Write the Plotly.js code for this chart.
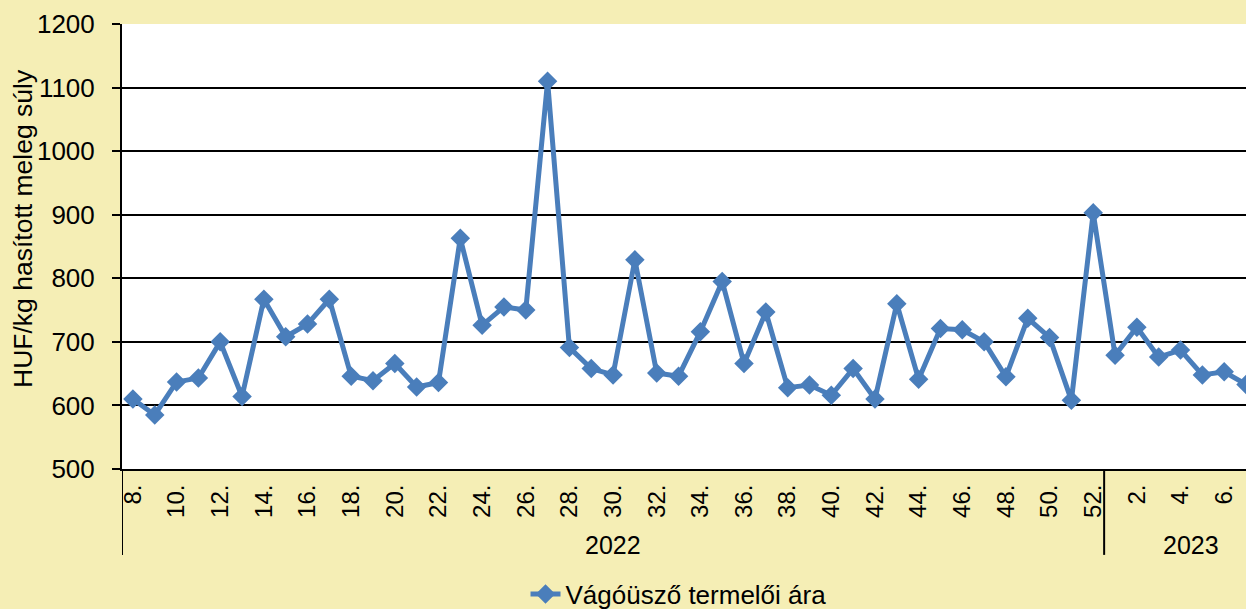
<!DOCTYPE html>
<html>
<head>
<meta charset="utf-8">
<script src="https://cdn.plot.ly/plotly-3.0.1.min.js"></script>
<style>
  html, body { margin: 0; padding: 0; background: #F5EEB5; }
  #chart { width: 1246px; height: 609px; }
</style>
</head>
<body>
<div id="chart"></div>
<script>
// Weeks (categories): 2022 weeks 8–52, then 2023 weeks 1–7
const weeks2022 = ["8.","9.","10.","11.","12.","13.","14.","15.","16.","17.","18.","19.","20.","21.","22.","23.","24.","25.","26.","27.","28.","29.","30.","31.","32.","33.","34.","35.","36.","37.","38.","39.","40.","41.","42.","43.","44.","45.","46.","47.","48.","49.","50.","51.","52."];
const weeks2023 = ["1.","2.","3.","4.","5.","6.","7."];
const prices2022 = [610,585,637,643,700,614,767,708,728,767,646,639,666,629,636,863,726,755,750,1110,691,658,648,829,651,646,716,795,666,747,628,632,616,658,610,760,641,721,719,700,645,737,707,608,903];
const prices2023 = [679,723,676,687,648,653,633];
const tickLabels = ["8.","10.","12.","14.","16.","18.","20.","22.","24.","26.","28.","30.","32.","34.","36.","38.","40.","42.","44.","46.","48.","50.","52.","2.","4.","6."];
const years = ["2022","2023"];
const seriesName = "Vágóüsző termelői ára";
const yTitle = "HUF/kg hasított meleg súly";

const cats = weeks2022.concat(weeks2023);
const vals = prices2022.concat(prices2023);

const FONT = '"Liberation Sans", Arial, sans-serif';
const BLUE = '#4A7EBB';

const trace = {
  type: 'scatter',
  mode: 'lines+markers',
  x: cats,
  y: vals,
  name: seriesName,
  line: { color: BLUE, width: 5 },
  marker: { symbol: 'diamond', size: 15, color: BLUE },
  cliponaxis: false
};

const n2022 = weeks2022.length;
const n2023 = weeks2023.length;

const layout = {
  width: 1246,
  height: 609,
  paper_bgcolor: '#F5EEB5',
  plot_bgcolor: '#FFFFFF',
  margin: { l: 122, r: 0, t: 24, b: 140, autoexpand: false },
  font: { family: FONT, size: 25, color: '#000' },
  showlegend: true,
  legend: {
    orientation: 'h',
    x: 0.359, xanchor: 'left',
    y: -0.281, yanchor: 'middle',
    bgcolor: 'rgba(0,0,0,0)',
    font: { family: FONT, size: 26, color: '#000' }
  },
  xaxis: {
    type: 'category',
    categoryorder: 'array',
    categoryarray: cats,
    range: [-0.5, cats.length - 1],
    tickmode: 'array',
    tickvals: tickLabels,
    ticktext: tickLabels,
    tickangle: -90,
    ticks: '',
    ticklabelstandoff: 4,
    showgrid: false,
    zeroline: false,
    showline: true,
    linecolor: '#000',
    linewidth: 2,
    automargin: false,
    tickfont: { family: FONT, size: 24, color: '#000' },
    fixedrange: true
  },
  yaxis: {
    range: [500, 1200],
    dtick: 100,
    tick0: 500,
    ticks: 'outside',
    ticklen: 8,
    tickwidth: 2,
    tickcolor: '#000',
    ticklabelstandoff: 12,
    showgrid: true,
    gridcolor: '#000',
    gridwidth: 2,
    showline: true,
    linecolor: '#000',
    linewidth: 2,
    zeroline: false,
    automargin: false,
    tickfont: { family: FONT, size: 26, color: '#000' },
    fixedrange: true
  },
  shapes: [
    { type: 'line', xref: 'x', yref: 'paper', x0: -0.5, x1: -0.5, y0: 0, y1: -0.193, line: { color: '#000', width: 2 } },
    { type: 'line', xref: 'x', yref: 'paper', x0: n2022 - 0.5, x1: n2022 - 0.5, y0: 0, y1: -0.193, line: { color: '#000', width: 2 } }
  ],
  annotations: [
    { xref: 'paper', yref: 'paper', x: -0.0881, y: 0.5416, text: yTitle, textangle: -90, showarrow: false, xanchor: 'center', yanchor: 'middle', font: { family: FONT, size: 26.5, color: '#000' } },
    { xref: 'x', yref: 'paper', x: (n2022 - 1) / 2, y: -0.171, text: years[0], showarrow: false, yanchor: 'middle', font: { family: FONT, size: 25, color: '#000' } },
    { xref: 'x', yref: 'paper', x: n2022 + (n2023 - 1) / 2 + 0.5, y: -0.171, text: years[1], showarrow: false, yanchor: 'middle', font: { family: FONT, size: 25, color: '#000' } }
  ]
};

Plotly.newPlot('chart', [trace], layout, { displayModeBar: false, staticPlot: true });
</script>
</body>
</html>
